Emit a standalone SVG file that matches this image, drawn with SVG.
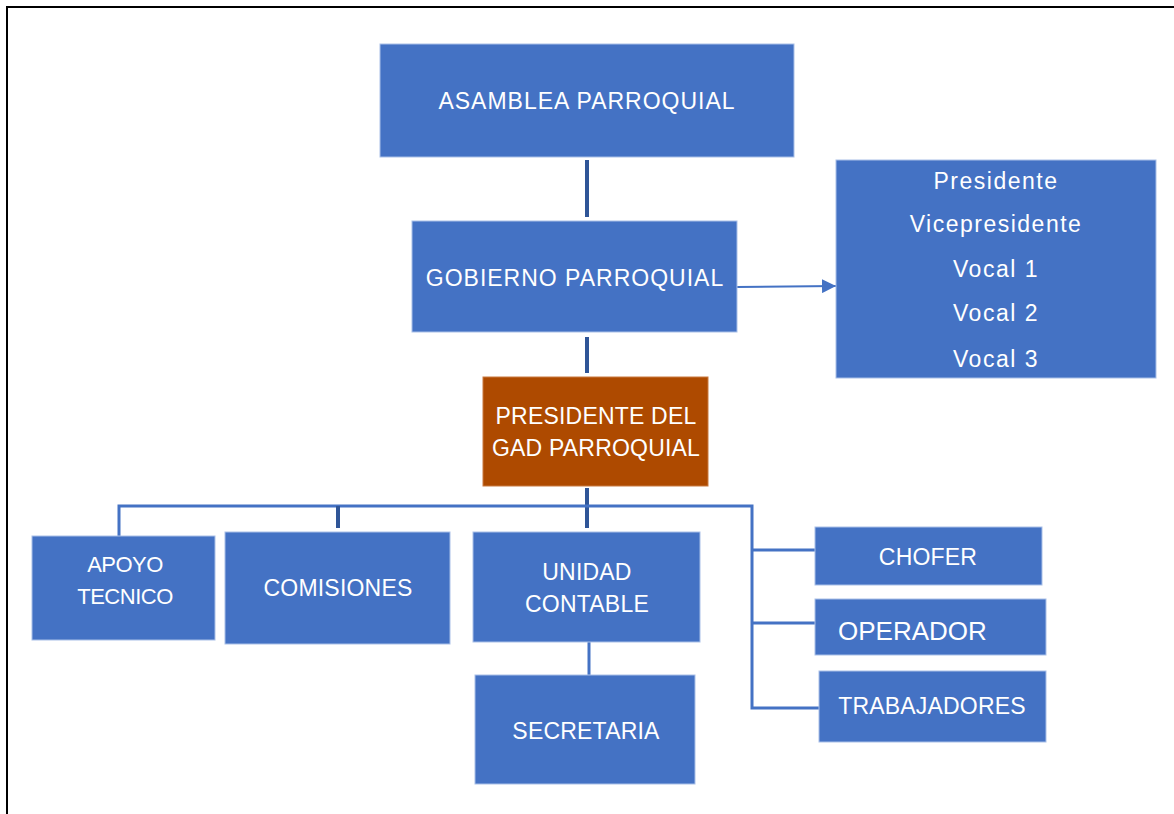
<svg xmlns="http://www.w3.org/2000/svg" width="1174" height="814" viewBox="0 0 1174 814">
<style>
.box{fill:#4472C4;stroke:#A9C0E8;stroke-width:1}
.org{fill:#AE4A00;stroke:#C97A40;stroke-width:1}
.t{font-family:"Liberation Sans",Arial,sans-serif;font-size:23px;letter-spacing:0.2px;fill:#FFFFFF;text-anchor:middle}
.w{letter-spacing:1px}
.lc{letter-spacing:1.5px}
.dk{stroke:#2F5597;stroke-width:4;fill:none}
.ln{stroke:#4472C4;stroke-width:3;fill:none}
</style>
<defs>
<marker id="ah" markerWidth="14" markerHeight="14" refX="14" refY="7" orient="auto" markerUnits="userSpaceOnUse" viewBox="0 0 14 14">
<path d="M0,0 L14,7 L0,14 z" fill="#4472C4"/>
</marker>
</defs>
<rect width="1174" height="814" fill="#FFFFFF"/>
<g id="frame">
<line x1="6" y1="7" x2="1174" y2="7" stroke="#000" stroke-width="2"/>
<line x1="7" y1="6" x2="7" y2="814" stroke="#000" stroke-width="2"/>
</g>
<g id="connectors">
<line class="dk" x1="587" y1="160" x2="587" y2="217"/>
<line class="dk" x1="587" y1="337" x2="587" y2="373"/>
<line x1="737" y1="287" x2="836" y2="286" stroke="#4472C4" stroke-width="2" marker-end="url(#ah)"/>
<line class="dk" x1="587" y1="488" x2="587" y2="528"/>
<polyline class="ln" points="119,536 119,506 752,506 752,708 819,708"/>
<line class="dk" x1="338" y1="506" x2="338" y2="528" stroke-width="3"/>
<line class="ln" x1="752" y1="550" x2="815" y2="550"/>
<line class="ln" x1="752" y1="623" x2="815" y2="623"/>
<line class="ln" x1="589" y1="642" x2="589" y2="675"/>
</g>
<g id="asamblea">
<rect class="box" x="380" y="44" width="414" height="113"/>
<text class="t w" x="587" y="109">ASAMBLEA PARROQUIAL</text>
</g>
<g id="gobierno">
<rect class="box" x="412" y="221" width="325" height="111"/>
<text class="t w" x="575" y="286">GOBIERNO PARROQUIAL</text>
</g>
<g id="miembros">
<rect class="box" x="836" y="160" width="320" height="218"/>
<text class="t lc" x="996" y="189">Presidente</text>
<text class="t lc" x="996" y="232">Vicepresidente</text>
<text class="t lc" x="996" y="277">Vocal 1</text>
<text class="t lc" x="996" y="321">Vocal 2</text>
<text class="t lc" x="996" y="367">Vocal 3</text>
</g>
<g id="presidente">
<rect class="org" x="483" y="377" width="225" height="109"/>
<text class="t" x="596" y="424">PRESIDENTE DEL</text>
<text class="t" x="596" y="456">GAD PARROQUIAL</text>
</g>
<g id="apoyo">
<rect class="box" x="32" y="536" width="183" height="104"/>
<text class="t" x="125" y="572" style="font-size:22px;letter-spacing:-0.5px">APOYO</text>
<text class="t" x="125" y="604" style="font-size:22px;letter-spacing:-0.5px">TECNICO</text>
</g>
<g id="comisiones">
<rect class="box" x="225" y="532" width="225" height="112"/>
<text class="t" x="338" y="596">COMISIONES</text>
</g>
<g id="unidad">
<rect class="box" x="473" y="532" width="227" height="110"/>
<text class="t" x="587" y="580">UNIDAD</text>
<text class="t" x="587" y="612">CONTABLE</text>
</g>
<g id="secretaria">
<rect class="box" x="475" y="675" width="220" height="109"/>
<text class="t" x="586" y="739">SECRETARIA</text>
</g>
<g id="chofer">
<rect class="box" x="815" y="527" width="227" height="58"/>
<text class="t" x="928" y="565">CHOFER</text>
</g>
<g id="operador">
<rect class="box" x="815" y="599" width="231" height="56"/>
<text class="t" x="838" y="640" style="text-anchor:start;font-size:26px;letter-spacing:0px">OPERADOR</text>
</g>
<g id="trabajadores">
<rect class="box" x="819" y="671" width="227" height="71"/>
<text class="t" x="932" y="714">TRABAJADORES</text>
</g>
</svg>
